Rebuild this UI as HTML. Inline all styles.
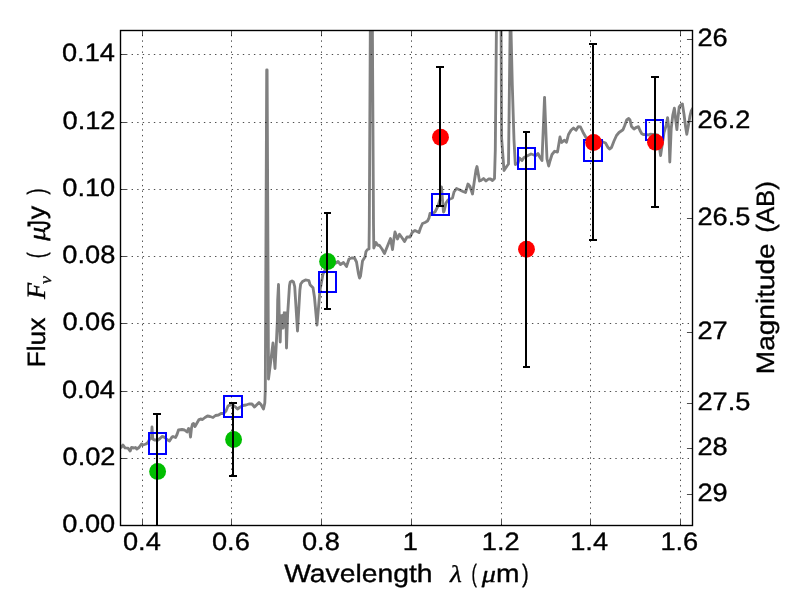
<!DOCTYPE html>
<html><head><meta charset="utf-8"><title>SED plot</title>
<style>html,body{margin:0;padding:0;background:#fff;}svg{display:block;will-change:transform;}text{text-rendering:geometricPrecision;font-family:"Liberation Sans",sans-serif;fill:#000;stroke:#000;stroke-width:0.35px;}.m{font-family:"Liberation Serif",serif;font-style:italic;}</style>
</head><body>
<svg width="800" height="600" viewBox="0 0 800 600">
<rect x="0" y="0" width="800" height="600" fill="#ffffff"/>
<defs><clipPath id="ax"><rect x="120" y="30" width="572.5" height="495.5"/></clipPath></defs>
<g clip-path="url(#ax)">
<polyline points="120,447.8 121,447.5 123,445 125,447.8 128,448.2 130.2,451 131.5,447.5 134,448 135.5,447.5 136.8,449 139,447.5 141.5,444 143,445 146,444 148,442.5 149.8,439 151.5,438 152,427 152.8,439 154.5,440 158,440 160,438.5 162,436.5 164,437 167,439.5 169.5,441 172,437 173,436.5 175.5,437.5 177,434.5 178.5,430 182,429.5 184.5,430 187,432 188.5,428.5 189.5,429 190.5,437 191.5,428 192.5,424 193.5,423.5 195,426.5 197,423 199,419.5 200.5,419 202.5,419.5 205,417.5 207.5,416 210,416.5 213,417.5 215.5,415.5 218.5,415 221,413.5 223.5,413.5 226,411 228,406 230,405 233,405 235.5,407 237.5,409 239.5,407.5 243,405.5 246,405 249,404 252,404 254.5,407 256.5,405 259,402.5 261,404.5 263.5,409 264.8,403 265.3,390 266.7,70 267.1,70 268.5,379 273,343 275,368.5 276.5,340 277.4,320 277.7,300 278.5,284.5 278.9,300 279.3,320 280.2,342 280.9,316 281.6,328 282.4,315.5 283.2,328 284.2,312.8 285.9,313 286.5,348 287.6,315 289.5,285.5 290.2,282 292,281 293.5,282 294.7,286.5 297.5,331 299.9,290 300.7,284 302.5,281.6 305.5,279.9 308.9,280.6 310,284.7 313,287.7 314.5,297.5 317,325 320,290 323,274 325,270 330,265 336,263 338,261.5 340.5,264.5 343.5,262.5 346.5,266.5 349,259 351.5,258 354.5,258 356.5,262 358.5,274 359.5,278 360.5,276 362.5,261 364,258.5 365,257 366,251.5 367.5,249.5 369,249 369.3,225 370.3,30 371.5,-130 372.4,30 373.5,225 373.8,248 376,242.5 377.5,245 379.5,245.5 382,249 384.5,253.5 387.5,246 390.5,238.5 392.5,249.5 393.5,241.5 395,232 397.5,239 399.5,234.3 401.5,237 404.5,241.5 407,237 410,237 412.5,232 415,230.5 419,232.5 420.5,228 422.5,223.5 425,222.5 427.5,221 429,218 430,213.5 433,213 435,212 438,206 440.5,198 441.5,187 442.5,200 443.5,212 444,211.5 446,203 448,200 450,199 452.5,198 454,192 456.5,188.5 460,190 463,191.5 465.5,192.5 468,184 470,186.5 472.5,194 474.5,180 476,170 477,166.5 479.5,181 481,180.5 483.5,178.5 486,181 488.5,179 490.5,179 492.5,180.5 494.5,178.5 495.3,150 496.4,30 497,-40 501,-40 501.1,30 501.6,138 504,170.5 507,166 508.5,164 510.1,30 510.4,2 511,30 512.3,85 514,140 515.3,164.5 518,163 519.5,158 522,160.5 524,157.5 528,155.5 531,154 534,155 536,155.5 538,153.5 540,157.5 542,160.5 542.6,145 544.55,97.4 546.4,145 547,159 548.7,166 550,161 552,154.5 554.5,151.3 557.5,152 559,143 560,137 561.5,142.5 564.5,140.2 566.5,142.2 568.5,134.5 571,130.3 573.5,128 576,130.2 578.2,126.7 580.5,127 583,132.2 585.7,137 588,140.5 600,141 603,142 605.5,143 608,147.5 609.5,149 611.5,147.5 614,141 616.5,135.5 619,132.5 623,129.8 624.7,125.5 626.7,120 628.7,118.5 630,120 631.5,126.5 634,129 636.5,127.3 638.4,126.6 640,130.5 641.8,133.8 643.6,134.6 646,134.3 648,135 650,134.2 653,134.5 657.5,135 660.6,155.5 664,132.5 666.3,125 667.6,117.6 668.8,128.6 669.8,162 671.2,128.6 672.8,115 674.4,108.2 675.6,119 676.9,129.5 678,117.4 679.2,107 680.8,105 682.4,103.9 684,114.2 685.6,127 686.8,134.3 688.4,125.4 690,115.8 691.2,111 693,108" fill="none" stroke="#808080" stroke-width="2.85" stroke-linejoin="round" stroke-linecap="butt"/>
</g>
<g fill="none" stroke="#0000ff" stroke-width="2">
<rect x="149" y="433" width="17" height="21"/>
<rect x="224" y="396" width="18" height="21"/>
<rect x="319" y="272" width="17" height="20"/>
<rect x="432" y="194" width="17" height="21"/>
<rect x="518" y="148" width="17" height="21"/>
<rect x="584" y="140" width="18" height="21"/>
<rect x="646" y="120" width="17" height="20"/>
</g>
<g stroke="#000" stroke-width="0.7" stroke-dasharray="1.39 4.17" fill="none">
<line x1="142.5" y1="525.5" x2="142.5" y2="30.5"/>
<line x1="231.5" y1="525.5" x2="231.5" y2="30.5"/>
<line x1="321.5" y1="525.5" x2="321.5" y2="30.5"/>
<line x1="411.5" y1="525.5" x2="411.5" y2="30.5"/>
<line x1="501.5" y1="525.5" x2="501.5" y2="30.5"/>
<line x1="590.5" y1="525.5" x2="590.5" y2="30.5"/>
<line x1="680.5" y1="525.5" x2="680.5" y2="30.5"/>
<line x1="120.5" y1="458.5" x2="692.5" y2="458.5"/>
<line x1="120.5" y1="391.5" x2="692.5" y2="391.5"/>
<line x1="120.5" y1="323.5" x2="692.5" y2="323.5"/>
<line x1="120.5" y1="256.5" x2="692.5" y2="256.5"/>
<line x1="120.5" y1="189.5" x2="692.5" y2="189.5"/>
<line x1="120.5" y1="122.5" x2="692.5" y2="122.5"/>
<line x1="120.5" y1="54.5" x2="692.5" y2="54.5"/>
</g>
<g fill="#00be00">
<circle cx="157.6" cy="471.4" r="8.45"/>
<circle cx="233.6" cy="439.4" r="8.45"/>
<circle cx="327.6" cy="261.5" r="8.45"/>
</g>
<g fill="#ff0000">
<circle cx="440.5" cy="137.3" r="8.45"/>
<circle cx="526.5" cy="249.3" r="8.45"/>
<circle cx="593.6" cy="142.5" r="8.45"/>
<circle cx="655.5" cy="142.2" r="8.45"/>
</g>
<g fill="#000" stroke="none">
<rect x="156" y="414" width="2" height="112"/>
<rect x="153" y="413" width="8" height="2"/>
<rect x="232" y="403" width="2" height="73"/>
<rect x="229" y="402" width="8" height="2"/>
<rect x="229" y="475" width="8" height="2"/>
<rect x="326" y="213" width="2" height="96"/>
<rect x="324" y="212" width="7" height="2"/>
<rect x="324" y="308" width="7" height="2"/>
<rect x="439" y="67" width="2" height="139"/>
<rect x="436" y="66" width="8" height="2"/>
<rect x="436" y="205" width="8" height="2"/>
<rect x="525" y="132" width="2" height="235"/>
<rect x="523" y="131" width="7" height="2"/>
<rect x="523" y="366" width="7" height="2"/>
<rect x="592" y="44" width="2" height="196"/>
<rect x="589" y="43" width="8" height="2"/>
<rect x="589" y="239" width="8" height="2"/>
<rect x="654" y="77" width="2" height="130"/>
<rect x="651" y="76" width="8" height="2"/>
<rect x="651" y="206" width="8" height="2"/>
</g>
<g stroke="#000" stroke-width="0.7" fill="none">
<line x1="142.5" y1="525.5" x2="142.5" y2="519.94"/>
<line x1="142.5" y1="30.5" x2="142.5" y2="36.06"/>
<line x1="231.5" y1="525.5" x2="231.5" y2="519.94"/>
<line x1="231.5" y1="30.5" x2="231.5" y2="36.06"/>
<line x1="321.5" y1="525.5" x2="321.5" y2="519.94"/>
<line x1="321.5" y1="30.5" x2="321.5" y2="36.06"/>
<line x1="411.5" y1="525.5" x2="411.5" y2="519.94"/>
<line x1="411.5" y1="30.5" x2="411.5" y2="36.06"/>
<line x1="501.5" y1="525.5" x2="501.5" y2="519.94"/>
<line x1="501.5" y1="30.5" x2="501.5" y2="36.06"/>
<line x1="590.5" y1="525.5" x2="590.5" y2="519.94"/>
<line x1="590.5" y1="30.5" x2="590.5" y2="36.06"/>
<line x1="680.5" y1="525.5" x2="680.5" y2="519.94"/>
<line x1="680.5" y1="30.5" x2="680.5" y2="36.06"/>
<line x1="120.5" y1="525.5" x2="126.06" y2="525.5"/>
<line x1="120.5" y1="458.5" x2="126.06" y2="458.5"/>
<line x1="120.5" y1="391.5" x2="126.06" y2="391.5"/>
<line x1="120.5" y1="323.5" x2="126.06" y2="323.5"/>
<line x1="120.5" y1="256.5" x2="126.06" y2="256.5"/>
<line x1="120.5" y1="189.5" x2="126.06" y2="189.5"/>
<line x1="120.5" y1="122.5" x2="126.06" y2="122.5"/>
<line x1="120.5" y1="54.5" x2="126.06" y2="54.5"/>
<line x1="692.5" y1="39.5" x2="686.94" y2="39.5"/>
<line x1="692.5" y1="121.5" x2="686.94" y2="121.5"/>
<line x1="692.5" y1="218.5" x2="686.94" y2="218.5"/>
<line x1="692.5" y1="332.5" x2="686.94" y2="332.5"/>
<line x1="692.5" y1="403.5" x2="686.94" y2="403.5"/>
<line x1="692.5" y1="448.5" x2="686.94" y2="448.5"/>
<line x1="692.5" y1="494.5" x2="686.94" y2="494.5"/>
</g>
<rect x="120.5" y="30.5" width="572.0" height="495.0" fill="none" stroke="#000" stroke-width="1.39"/>
<g id="texts" style="filter:grayscale(1)">
<text id="yl0" font-size="25.1" textLength="52.98" lengthAdjust="spacingAndGlyphs" x="62.26" y="532.00">0.00</text>
<text id="yl1" font-size="25.1" textLength="52.98" lengthAdjust="spacingAndGlyphs" x="62.50" y="465.00">0.02</text>
<text id="yl2" font-size="25.1" textLength="52.98" lengthAdjust="spacingAndGlyphs" x="61.96" y="398.00">0.04</text>
<text id="yl3" font-size="25.1" textLength="52.98" lengthAdjust="spacingAndGlyphs" x="62.41" y="330.00">0.06</text>
<text id="yl4" font-size="25.1" textLength="52.98" lengthAdjust="spacingAndGlyphs" x="62.32" y="263.00">0.08</text>
<text id="yl5" font-size="25.1" textLength="52.98" lengthAdjust="spacingAndGlyphs" x="62.26" y="196.00">0.10</text>
<text id="yl6" font-size="25.1" textLength="52.98" lengthAdjust="spacingAndGlyphs" x="62.50" y="129.00">0.12</text>
<text id="yl7" font-size="25.1" textLength="52.98" lengthAdjust="spacingAndGlyphs" x="61.96" y="61.00">0.14</text>
<text id="xl0" font-size="25.1" textLength="37.84" lengthAdjust="spacingAndGlyphs" x="122.95" y="550.00">0.4</text>
<text id="xl1" font-size="25.1" textLength="37.84" lengthAdjust="spacingAndGlyphs" x="211.98" y="550.00">0.6</text>
<text id="xl2" font-size="25.1" textLength="37.84" lengthAdjust="spacingAndGlyphs" x="301.98" y="550.00">0.8</text>
<text id="xl3" font-size="25.1" textLength="15.14" lengthAdjust="spacingAndGlyphs" x="402.89" y="550.00">1</text>
<text id="xl4" font-size="25.1" textLength="37.84" lengthAdjust="spacingAndGlyphs" x="481.76" y="550.00">1.2</text>
<text id="xl5" font-size="25.1" textLength="37.84" lengthAdjust="spacingAndGlyphs" x="570.21" y="550.00">1.4</text>
<text id="xl6" font-size="25.1" textLength="37.84" lengthAdjust="spacingAndGlyphs" x="660.41" y="550.00">1.6</text>
<text id="rl0" font-size="25.1" textLength="30.27" lengthAdjust="spacingAndGlyphs" x="697.44" y="46.00">26</text>
<text id="rl1" font-size="25.1" textLength="52.98" lengthAdjust="spacingAndGlyphs" x="697.44" y="128.00">26.2</text>
<text id="rl2" font-size="25.1" textLength="52.98" lengthAdjust="spacingAndGlyphs" x="697.44" y="225.00">26.5</text>
<text id="rl3" font-size="25.1" textLength="30.27" lengthAdjust="spacingAndGlyphs" x="697.44" y="339.00">27</text>
<text id="rl4" font-size="25.1" textLength="52.98" lengthAdjust="spacingAndGlyphs" x="697.44" y="410.00">27.5</text>
<text id="rl5" font-size="25.1" textLength="30.27" lengthAdjust="spacingAndGlyphs" x="697.44" y="455.00">28</text>
<text id="rl6" font-size="25.1" textLength="30.27" lengthAdjust="spacingAndGlyphs" x="697.44" y="501.00">29</text>
<text id="xlab" font-size="25.1" textLength="148.44" lengthAdjust="spacingAndGlyphs" x="284.16" y="582.40">Wavelength</text>
<text id="xlam" class="m" font-size="24.0" textLength="11.80" lengthAdjust="spacingAndGlyphs" x="449.94" y="582.40">λ</text>
<text id="xp1" font-size="25.1" textLength="5.43" lengthAdjust="spacingAndGlyphs" x="471.44" y="582.40">(</text>
<text id="xmu" class="m" font-size="24.0" textLength="14.20" lengthAdjust="spacingAndGlyphs" x="481.84" y="582.40">μ</text>
<text id="xm" font-size="25.1" textLength="23.48" lengthAdjust="spacingAndGlyphs" x="496.02" y="582.40">m</text>
<text id="xp2" font-size="25.1" textLength="6.71" lengthAdjust="spacingAndGlyphs" x="522.00" y="582.40">)</text>
<text id="ylab" font-size="25.1" textLength="49.94" lengthAdjust="spacingAndGlyphs" transform="translate(45.00,367.50) rotate(-90)" x="0" y="0">Flux</text>
<text id="yF" class="m" font-size="26.5" textLength="16.14" lengthAdjust="spacingAndGlyphs" transform="translate(45.00,298.89) rotate(-90)" x="0" y="0">F</text>
<text id="ynu" class="m" font-size="16.5" textLength="8.04" lengthAdjust="spacingAndGlyphs" transform="translate(50.50,284.09) rotate(-90)" x="0" y="0">ν</text>
<text id="yp1" font-size="25.1" textLength="5.95" lengthAdjust="spacingAndGlyphs" transform="translate(45.00,258.17) rotate(-90)" x="0" y="0">(</text>
<text id="ymu" class="m" font-size="24.0" textLength="13.91" lengthAdjust="spacingAndGlyphs" transform="translate(45.00,240.72) rotate(-90)" x="0" y="0">μ</text>
<text id="yJ" font-size="25.1" textLength="9.87" lengthAdjust="spacingAndGlyphs" transform="translate(50.00,230.30) rotate(-90) scale(1,1.29)" x="0" y="0">J</text>
<text id="yy" font-size="25.1" textLength="13.40" lengthAdjust="spacingAndGlyphs" transform="translate(45.00,219.13) rotate(-90)" x="0" y="0">y</text>
<text id="yp2" font-size="25.1" textLength="6.04" lengthAdjust="spacingAndGlyphs" transform="translate(45.00,194.48) rotate(-90)" x="0" y="0">)</text>
<text id="rlab" font-size="25.1" textLength="130.85" lengthAdjust="spacingAndGlyphs" transform="translate(774.20,374.16) rotate(-90)" x="0" y="0">Magnitude</text>
<text id="rlab2" font-size="25.1" textLength="51.46" lengthAdjust="spacingAndGlyphs" transform="translate(774.20,232.63) rotate(-90)" x="0" y="0">(AB)</text>
</g>
</svg></body></html>
